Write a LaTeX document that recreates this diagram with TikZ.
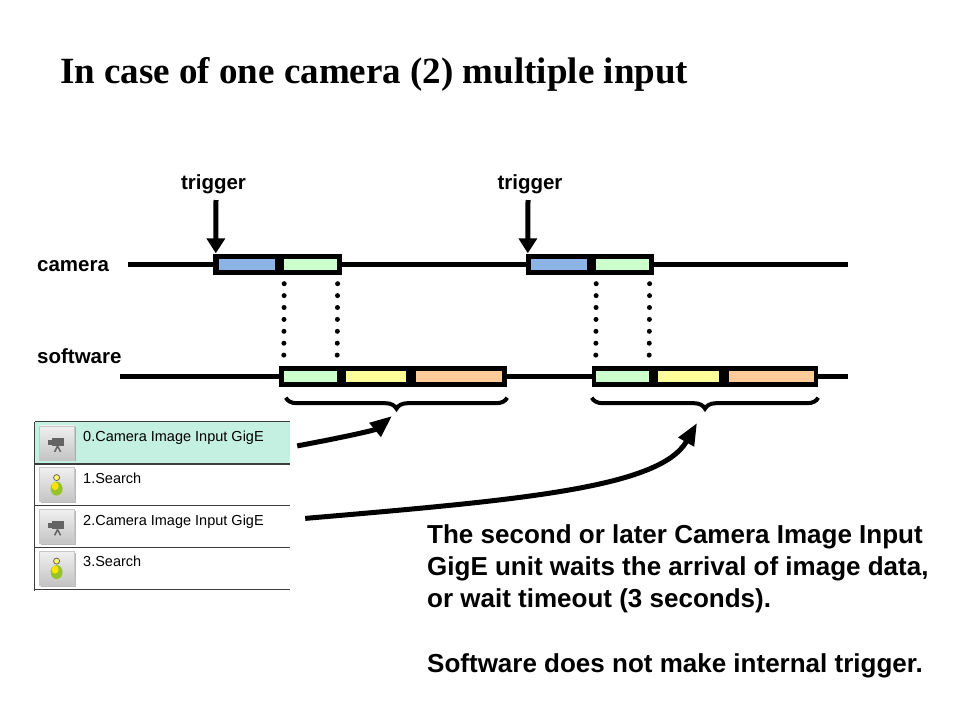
\documentclass[tikz,border=0pt]{standalone}
\usepackage{fontspec}
\setmainfont{Liberation Sans}
\newfontfamily\titlefont{Liberation Serif}
\usetikzlibrary{arrows.meta,positioning,decorations.pathreplacing,shadows}

\definecolor{shotblue}{RGB}{141,180,230}
\definecolor{sendgreen}{RGB}{204,255,204}
\definecolor{procyellow}{RGB}{255,255,153}
\definecolor{outorange}{RGB}{255,204,153}
\definecolor{rowsel}{RGB}{196,240,226}
\definecolor{btngray}{RGB}{196,196,196}
\definecolor{camgray}{RGB}{100,100,100}
\definecolor{searchgreen}{RGB}{150,196,40}
\definecolor{listgray}{RGB}{60,60,60}

\tikzset{
  laneline/.style={line width=5pt},
  boxframe/.style={fill=black, inner sep=0pt, minimum height=21pt},
  boxpart/.style={inner sep=0pt, minimum height=11pt},
  dotline/.style={line width=5pt, line cap=round, dash pattern=on 0pt off 11.9pt},
  trigarrow/.style={line width=5pt, -{Triangle[length=15pt,width=18pt]}},
  bracebelow/.style={line width=4pt, decorate, decoration={brace, mirror, amplitude=11pt}},
  unitarrow/.style={line width=5pt, -{Triangle[length=22pt,width=17pt]}},
  listrow/.style={inner sep=0pt, minimum width=255pt, minimum height=41.75pt},
  listline/.style={listgray, line width=1.3pt},
  iconbtn/.style={inner sep=0pt, minimum width=35pt, minimum height=34pt,
    top color=white!94!black, bottom color=btngray, draw=white!78!black, line width=0.6pt,
    drop shadow={shadow xshift=1.5pt, shadow yshift=-1.5pt, opacity=0.55}},
  lanetag/.style={font=\fontsize{20.5}{24}\selectfont\bfseries, inner sep=0pt},
  rowtext/.style={font=\fontsize{14.5}{17}\selectfont, inner sep=0pt, anchor=base west},
  notetext/.style={font=\fontsize{26}{32}\selectfont\bfseries, inner sep=0pt, anchor=base west, align=left},
}

\begin{document}
\begin{tikzpicture}[x=1pt,y=-1pt]
  \fill[white] (0,0) rectangle (960,720);
  \useasboundingbox (0,0) rectangle (960,720);

  % title
  \node[anchor=base west, inner sep=0pt, font=\titlefont\bfseries\fontsize{37}{44}\selectfont] (title) at (60,83)
    {In case of one camera (2) multiple input};

  % lanes
  \node[lanetag, anchor=base west] (camtag) at (37,271) {camera};
  \node[lanetag, anchor=base west] (swtag) at (37,363) {software};
  \coordinate (camL) at (128,264);
  \coordinate (camR) at (848,264);
  \coordinate (swL) at (120,376);
  \coordinate (swR) at (848,376);
  \draw[laneline] (camL) -- (camR);
  \draw[laneline] (swL) -- (swR);

  % first shot
  \node[boxframe, minimum width=129pt] (cam1) at (277.5,264) {};
  \node[boxpart, fill=shotblue, minimum width=56pt, right=6pt of cam1.west] (cam1x) {};
  \node[boxpart, fill=sendgreen, minimum width=53pt, right=9pt of cam1x] (cam1t) {};
  \node[boxframe, minimum width=228pt] (sw1) at (393,376) {};
  \node[boxpart, fill=sendgreen, minimum width=53pt, right=5pt of sw1.west] (sw1t) {};
  \node[boxpart, fill=procyellow, minimum width=60pt, right=9pt of sw1t] (sw1p) {};
  \node[boxpart, fill=outorange, minimum width=86pt, right=9pt of sw1p] (sw1o) {};

  % second shot
  \node[boxframe, minimum width=128pt] (cam2) at (590,264) {};
  \node[boxpart, fill=shotblue, minimum width=56pt, right=5pt of cam2.west] (cam2x) {};
  \node[boxpart, fill=sendgreen, minimum width=53pt, right=9pt of cam2x] (cam2t) {};
  \node[boxframe, minimum width=226pt] (sw2) at (705,376) {};
  \node[boxpart, fill=sendgreen, minimum width=53pt, right=4pt of sw2.west] (sw2t) {};
  \node[boxpart, fill=procyellow, minimum width=61pt, right=9pt of sw2t] (sw2p) {};
  \node[boxpart, fill=outorange, minimum width=85pt, right=9pt of sw2p] (sw2o) {};

  % transfer
  \draw[dotline] ([yshift=-14pt]cam1t.south west) -- ([yshift=14pt]sw1t.north west);
  \draw[dotline] ([yshift=-14pt]cam1t.south east) -- ([yshift=14pt]sw1t.north east);
  \draw[dotline] ([yshift=-14pt]cam2t.south west) -- ([yshift=14pt]sw2t.north west);
  \draw[dotline] ([yshift=-14pt]cam2t.south east) -- ([yshift=14pt]sw2t.north east);

  % triggers
  \node[lanetag, anchor=base] (trig1) at (213.5,189) {trigger};
  \node[lanetag, anchor=base] (trig2) at (530,189) {trigger};
  \coordinate (trig1s) at (216,200);
  \coordinate (trig2s) at (528,200);
  \draw[trigarrow] (trig1s) -- ([xshift=3pt]cam1.north west);
  \draw[trigarrow] (trig2s) -- ([xshift=2pt]cam2.north west);

  % braces
  \draw[bracebelow] ([xshift=7pt,yshift=-11pt]sw1.south west) -- ([yshift=-11pt]sw1.south east);
  \draw[bracebelow] ([yshift=-11pt]sw2.south west) -- ([yshift=-11pt]sw2.south east);
  \coordinate (tip1) at (392,416);
  \coordinate (tip2) at (697,423);

  % unit list
  \node[listrow, fill=rowsel] (row0) at (162.5,442.9) {};
  \node[listrow] (row1) at (162.5,484.6) {};
  \node[listrow] (row2) at (162.5,526.4) {};
  \node[listrow] (row3) at (162.5,568.1) {};
  \draw[listline] (row0.north west) -- (row0.north east);
  \foreach \r in {row0,row1,row2,row3}
    \draw[listline] (\r.south west) -- (\r.south east);
  \draw[listline] (row0.north west) -- ([yshift=-2pt]row3.south west);

  \node[iconbtn, right=4pt of row0.west] (btn0) {};
  \node[iconbtn, right=4pt of row1.west] (btn1) {};
  \node[iconbtn, right=4pt of row2.west] (btn2) {};
  \node[iconbtn, right=4pt of row3.west] (btn3) {};
  \foreach \b in {btn0,btn2}{
    \begin{scope}[shift={(\b.center)}]
      \fill[camgray] (-9,-3) rectangle (-5,2);
      \fill[camgray] (-5,-5) rectangle (7,3);
      \draw[camgray, line width=1.5pt] (1,3) -- (-2,9) (1,3) -- (4,9);
    \end{scope}
  }
  \foreach \b in {btn1,btn3}{
    \begin{scope}[shift={(\b.center)}]
      \fill[searchgreen] (0,4) ellipse (6pt and 7pt);
      \fill[yellow!85!orange] (-1.5,1.5) ellipse (3.5pt and 4pt);
      \draw[camgray, fill=yellow!60, line width=0.8pt] (0,-7) circle (3pt);
    \end{scope}
  }

  \node[rowtext] (name0) at (83,441.5) {0.Camera Image Input GigE};
  \node[rowtext] (name1) at (83,483.2) {1.Search};
  \node[rowtext] (name2) at (83,525) {2.Camera Image Input GigE};
  \node[rowtext] (name3) at (83,566.7) {3.Search};

  % which unit takes which shot
  \draw[unitarrow] ([xshift=7pt,yshift=-3pt]row0.east) .. controls (350,436) and (375,430) .. (tip1);
  \draw[unitarrow] ([xshift=15pt,yshift=8pt]row2.east) .. controls (520,500) and (660,488) .. (tip2);

  % notes
  \node[notetext] (note) at (427,607) {The second or later Camera Image Input\\GigE unit waits the arrival of image data,\\or wait timeout (3 seconds).};
  \node[notetext] (note2) at (427,672) {Software does not make internal trigger.};
\end{tikzpicture}
\end{document}
